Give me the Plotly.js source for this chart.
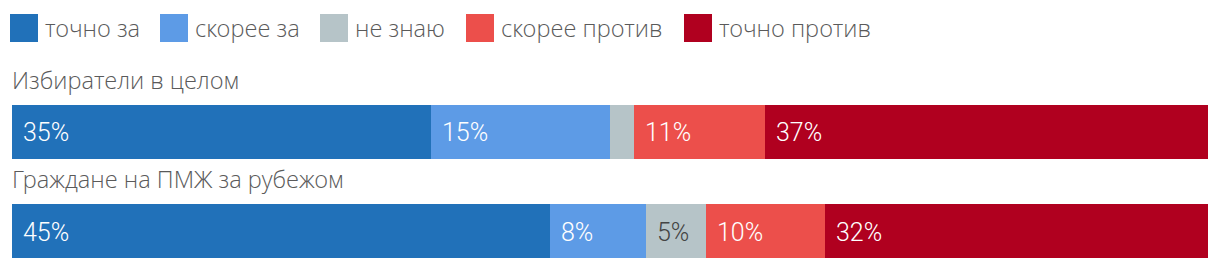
<!DOCTYPE html>
<html><head><meta charset="utf-8">
<script src="https://cdn.plot.ly/plotly-3.0.1.min.js"></script>
<style>html,body{margin:0;padding:0;background:#fff}</style>
</head><body><div id="chart" style="width:1220px;height:270px"></div>
<script>
const groups = ["Избиратели в целом", "Граждане на ПМЖ за рубежом"];
const answers = ["точно за", "скорее за", "не знаю", "скорее против", "точно против"];
const colors = ["#2171b9", "#5d9be6", "#b6c4c8", "#ec4f4b", "#b0001f"];
const labelColors = ["#ffffff", "#ffffff", "#444444", "#ffffff", "#ffffff"];
const valuesTochnoZa = [35, 45];
const valuesSkoreeZa = [15, 8];
const valuesNeZnayu = [2, 5];
const valuesSkoreeProtiv = [11, 10];
const valuesTochnoProtiv = [37, 32];
const series = [valuesTochnoZa, valuesSkoreeZa, valuesNeZnayu, valuesSkoreeProtiv, valuesTochnoProtiv];

const legendX = [10, 160, 320, 466, 684];
const lightOpen = {family: "Open Sans Light, Open Sans", size: 23.6, color: "#5a5a5a", weight: 300};

const traces = series.map((vals, i) => ({
  type: "bar", orientation: "h", name: answers[i],
  x: vals, y: groups, width: 0.545,
  marker: {color: colors[i], line: {width: 0}},
  hoverinfo: "none", showlegend: false
}));

const annotations = [];
const shapes = [];
groups.forEach((g, gi) => {
  let cum = 0;
  series.forEach((vals, si) => {
    const v = vals[gi];
    if (v >= 3) {
      annotations.push({
        x: cum, y: g, xref: "x", yref: "y", xanchor: "left", yanchor: "middle",
        xshift: 9, yshift: -1, showarrow: false, text: v + "%",
        font: {family: "Roboto Light, Roboto", size: 25, color: labelColors[si], weight: 300}
      });
    }
    cum += v;
  });
  annotations.push({
    x: 0, y: gi - 0.2725, xref: "paper", yref: "y", xanchor: "left", yanchor: "bottom",
    xshift: -2, yshift: 7, showarrow: false, text: g, font: lightOpen
  });
});
answers.forEach((a, i) => {
  shapes.push({
    type: "rect", xref: "paper", yref: "paper", xsizemode: "pixel", ysizemode: "pixel",
    xanchor: 0, yanchor: 1, x0: legendX[i] - 12, x1: legendX[i] - 12 + 28,
    y0: 100 - 14, y1: 100 - 42, fillcolor: colors[i], line: {width: 0}
  });
  annotations.push({
    x: 0, y: 1, xref: "paper", yref: "paper", xanchor: "left", yanchor: "middle",
    xshift: legendX[i] - 12 + 33, yshift: 100 - 28, showarrow: false, text: a, font: lightOpen
  });
});

const layout = {
  width: 1220, height: 270,
  margin: {l: 12, r: 12, t: 100, b: 8, pad: 0},
  barmode: "stack", bargap: 0,
  paper_bgcolor: "#ffffff", plot_bgcolor: "#ffffff",
  showlegend: false,
  xaxis: {range: [0, 100], visible: false, fixedrange: true},
  yaxis: {range: [1.313, -0.323], visible: false, type: "category", fixedrange: true},
  annotations: annotations, shapes: shapes
};
Plotly.newPlot("chart", traces, layout, {displayModeBar: false, staticPlot: true});
</script></body></html>
